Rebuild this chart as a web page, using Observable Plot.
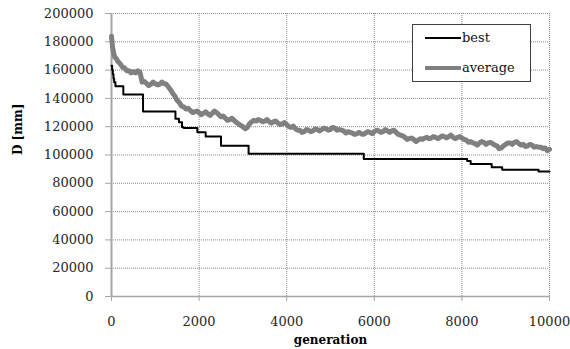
<!DOCTYPE html>
<html>
<head>
<meta charset="utf-8">
<script src="https://cdn.jsdelivr.net/npm/d3@7"></script>
<script src="https://cdn.jsdelivr.net/npm/@observablehq/plot@0.6"></script>
<style>
  html, body { margin: 0; padding: 0; background: white; }
  #wrap { position: relative; width: 570px; height: 349px; }
  #legend { position: absolute; left: 412px; top: 24px; width: 117px; height: 56px;
    border: 1px solid #404040; background: white; font-family: "DejaVu Serif"; font-size: 13px; color: #111; }
  .row { position: absolute; left: 12px; display: flex; align-items: center; }
  .row svg { display: block; margin-right: 1px; }
</style>
</head>
<body>
<div id="wrap"></div>
<script>
// ---- data ----
const xTicks = [0, 2000, 4000, 6000, 8000, 10000];
const yTicks = [0, 20000, 40000, 60000, 80000, 100000, 120000, 140000, 160000, 180000, 200000];

const seriesNames = ["best", "average"];
const seriesColors = ["#000000", "#808080"];

// best: step changes (generation, D)
const bestGen = [0, 15, 30, 45, 60, 90, 270, 720, 1460, 1540, 1610, 1650, 1960, 2150, 2500, 3130, 5760, 8120, 8200, 8680, 8920, 9750, 10000];
const bestD   = [163000, 160000, 157000, 154000, 151500, 148500, 142700, 130700, 125600, 123200, 119700, 119000, 116100, 113000, 106500, 100800, 97200, 95700, 93700, 91300, 89600, 88300, 88300];

// average: read every 50 generations (plus early points)
const avgGen = [0, 25, 50, 75, 100, 150, 200, 250, 300, 350, 400, 450, 500, 550, 600, 650, 700, 750, 800, 850, 900, 950,
  1000, 1050, 1100, 1150, 1200, 1250, 1300, 1350, 1400, 1450, 1500, 1550, 1600, 1650, 1700, 1750, 1800, 1850, 1900, 1950,
  2000, 2050, 2100, 2150, 2200, 2250, 2300, 2350, 2400, 2450, 2500, 2550, 2600, 2650, 2700, 2750, 2800, 2850, 2900, 2950,
  3000, 3050, 3100, 3150, 3200, 3250, 3300, 3350, 3400, 3450, 3500, 3550, 3600, 3650, 3700, 3750, 3800, 3850, 3900, 3950,
  4000, 4050, 4100, 4150, 4200, 4250, 4300, 4350, 4400, 4450, 4500, 4550, 4600, 4650, 4700, 4750, 4800, 4850, 4900, 4950,
  5000, 5050, 5100, 5150, 5200, 5250, 5300, 5350, 5400, 5450, 5500, 5550, 5600, 5650, 5700, 5750, 5800, 5850, 5900, 5950,
  6000, 6050, 6100, 6150, 6200, 6250, 6300, 6350, 6400, 6450, 6500, 6550, 6600, 6650, 6700, 6750, 6800, 6850, 6900, 6950,
  7000, 7050, 7100, 7150, 7200, 7250, 7300, 7350, 7400, 7450, 7500, 7550, 7600, 7650, 7700, 7750, 7800, 7850, 7900, 7950,
  8000, 8050, 8100, 8150, 8200, 8250, 8300, 8350, 8400, 8450, 8500, 8550, 8600, 8650, 8700, 8750, 8800, 8850, 8900, 8950,
  9000, 9050, 9100, 9150, 9200, 9250, 9300, 9350, 9400, 9450, 9500, 9550, 9600, 9650, 9700, 9750, 9800, 9850, 9900, 9950, 10000];
const avgD = [184000, 176000, 172000, 169000, 168500, 166000, 164500, 162000, 161500, 159500, 159500, 158000, 159000, 158000, 159500, 158500, 151500, 152000, 150500, 149000, 150000, 151500,
  150500, 149500, 150000, 151500, 150500, 150000, 148000, 146000, 143500, 141500, 138500, 137000, 134500, 134000, 132500, 133000, 131500, 130000, 130500, 131000,
  130000, 128500, 129500, 130500, 129000, 128000, 129500, 131000, 130000, 128500, 127000, 127500, 126000, 124500, 125000, 126000, 124500, 123000, 122000, 121000,
  120000, 118500, 119500, 122000, 123500, 124500, 124000, 125000, 124500, 123500, 124000, 125000, 123500, 122500, 123500, 124000, 122500, 121500, 122000, 123000,
  121500, 120000, 119500, 120500, 118500, 117500, 117500, 116000, 116500, 118000, 117500, 116500, 117000, 118500, 118000, 117000, 118000, 119000, 118500, 117500,
  118000, 119500, 119000, 117500, 118000, 117500, 117000, 115500, 116500, 116000, 115500, 114500, 115000, 116000, 115000, 114500, 115500, 116500, 116000, 115000,
  116500, 117500, 117000, 116000, 116500, 118000, 117000, 116000, 117000, 117500, 116000, 114500, 114000, 113500, 112500, 111000, 111500, 112000, 111000, 109500,
  110500, 111500, 111000, 112000, 112500, 111500, 112000, 113000, 112500, 111500, 112500, 113500, 113000, 112000, 113000, 114000, 112500, 111500, 112500, 113000,
  112000, 111000, 110500, 109000, 109500, 108500, 108000, 107000, 108500, 109500, 109000, 107500, 108500, 109000, 108000, 107000, 106500, 104500, 105000, 106500,
  107500, 108500, 108500, 107500, 109000, 109500, 108000, 107000, 107500, 106000, 106500, 107500, 107000, 105500, 106000, 105500, 105500, 104500, 105000, 103000, 104000];

const best = bestGen.map((g, i) => ({gen: g, D: bestD[i]}));
const avg = avgGen.map((g, i) => ({gen: g, D: avgD[i]}));

const gridStyle = {stroke: "#8c8c8c", strokeOpacity: 1, strokeWidth: 1, strokeDasharray: "1,1"};
const axisGray = "#a6a6a6";

const chart = Plot.plot({
  width: 570, height: 349,
  marginLeft: 111, marginRight: 21, marginTop: 13, marginBottom: 53,
  x: {domain: [0, 10000]},
  y: {domain: [0, 200000]},
  style: {fontFamily: "DejaVu Serif", fontSize: "13px", color: "#262626", background: "white"},
  marks: [
    Plot.gridY(yTicks, gridStyle),
    Plot.gridX(xTicks, gridStyle),
    Plot.ruleX([0], {stroke: axisGray, strokeWidth: 2}),
    Plot.ruleY([0], {stroke: axisGray, strokeWidth: 1.5}),
    Plot.axisY(yTicks, {tickSize: 6, tickPadding: 12, stroke: axisGray, fill: "#262626", tickFormat: d => String(d), label: null}),
    Plot.axisX(xTicks, {tickSize: 5, tickPadding: 15, stroke: axisGray, fill: "#262626", tickFormat: d => String(d), label: null}),
    Plot.line(avg, {x: "gen", y: "D", stroke: seriesColors[1], strokeWidth: 5, strokeLinejoin: "round"}),
    Plot.line(best, {x: "gen", y: "D", curve: "step-after", stroke: seriesColors[0], strokeWidth: 2}),
    Plot.text(["generation"], {frameAnchor: "bottom", dy: 47, fontWeight: "bold", fontSize: 12, fill: "#000"}),
    Plot.text(["D [mm]"], {frameAnchor: "left", dx: -93, rotate: -90, fontWeight: "bold", fontSize: 12, fill: "#000"})
  ]
});

const wrap = document.getElementById("wrap");
wrap.appendChild(chart);

// legend (HTML overlay)
const legend = document.createElement("div");
legend.id = "legend";
seriesNames.forEach((name, i) => {
  const row = document.createElement("div");
  row.className = "row";
  row.style.top = (i === 0 ? 5 : 35) + "px";
  const w = i === 0 ? 2 : 4;
  row.innerHTML = `<svg width="36" height="10"><line x1="0" x2="36" y1="5" y2="5" stroke="${seriesColors[i]}" stroke-width="${w}"/></svg><span>${name}</span>`;
  legend.appendChild(row);
});
wrap.appendChild(legend);
</script>
</body>
</html>
